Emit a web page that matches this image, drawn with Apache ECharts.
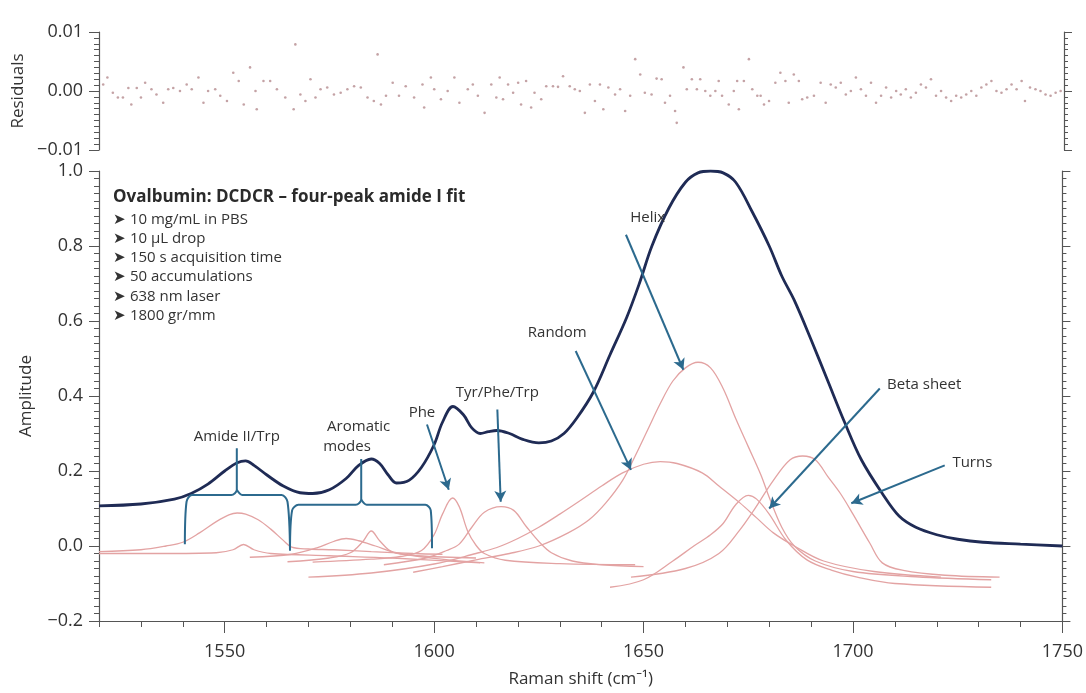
<!DOCTYPE html>
<html>
<head>
<meta charset="utf-8">
<script src="https://cdn.jsdelivr.net/npm/echarts@6/dist/echarts.min.js"></script>
<style>
html,body{margin:0;padding:0;background:#fff;}
#chart{width:1086px;height:693px;}
</style>
</head>
<body>
<div id="chart"></div>
<script>
// ---------------- DATA ----------------
const xTickLabels = [1550, 1600, 1650, 1700, 1750];
const xMinorTicks = [1520,1530,1540,1550,1560,1570,1580,1590,1600,1610,1620,1630,1640,1650,1660,1670,1680,1690,1700,1710,1720,1730,1740,1750];

// Measured spectrum (dark curve)
const specX = [1520,1530,1538,1542,1546,1550,1553,1555,1557,1560,1564,1568,1571,1575,1579,1582,1585,1587,1589,1591,1594,1597,1600,1602,1604.5,1607,1609,1611,1613,1615,1618,1621,1625,1628,1631,1634,1638,1642,1646,1649,1652,1656,1660,1663,1666,1669,1672,1676,1680,1683,1686,1690,1694,1698,1702,1707,1711,1715,1720,1725,1731,1740,1750];
const specY = [0.107,0.112,0.125,0.14,0.165,0.2,0.222,0.227,0.215,0.19,0.16,0.142,0.14,0.15,0.18,0.215,0.232,0.22,0.19,0.168,0.175,0.21,0.27,0.33,0.372,0.35,0.315,0.3,0.305,0.308,0.3,0.285,0.275,0.28,0.3,0.34,0.41,0.51,0.61,0.7,0.8,0.9,0.97,0.995,1.0,0.995,0.97,0.89,0.8,0.72,0.655,0.55,0.44,0.33,0.23,0.14,0.08,0.05,0.03,0.018,0.01,0.005,0.0];

// Fitted components (pink curves)
const compAmideII = [[1520,-0.015],[1530,-0.01],[1536,0.0],[1540,0.01],[1544,0.035],[1548,0.065],[1551,0.083],[1553,0.088],[1555,0.085],[1558,0.07],[1561,0.045],[1564,0.015],[1566,-0.003],[1570,-0.008],[1576,-0.01],[1585,-0.015],[1595,-0.02],[1602,-0.022]];
const compTrp = [[1520,-0.02],[1535,-0.02],[1548,-0.018],[1552,-0.01],[1554.5,0.004],[1557,-0.01],[1561,-0.02],[1575,-0.026],[1590,-0.032],[1611,-0.045]];
const compArom1 = [[1556,-0.03],[1566,-0.022],[1572,-0.005],[1576,0.012],[1579,0.02],[1582,0.014],[1586,0.0],[1591,-0.018],[1600,-0.033],[1612,-0.045]];
const compArom2 = [[1565,-0.042],[1575,-0.032],[1580,-0.018],[1583,0.012],[1585,0.04],[1587,0.014],[1590,-0.016],[1596,-0.026],[1610,-0.032]];
const compPhe = [[1571,-0.043],[1585,-0.035],[1592,-0.028],[1597,-0.012],[1600,0.03],[1602,0.085],[1604.4,0.128],[1606,0.105],[1608,0.04],[1610,0.002],[1612,-0.02],[1617,-0.038],[1630,-0.047],[1648,-0.05]];
const compTyr = [[1588,-0.05],[1598,-0.032],[1603,-0.012],[1606,0.005],[1609,0.05],[1612,0.09],[1616,0.105],[1619,0.095],[1622,0.052],[1625,0.012],[1628,-0.018],[1633,-0.04],[1640,-0.05],[1650,-0.055]];
const compRandom = [[1570,-0.083],[1585,-0.072],[1600,-0.048],[1610,-0.02],[1615,-0.004],[1620,0.02],[1625,0.05],[1630,0.085],[1635,0.122],[1640,0.16],[1645,0.195],[1650,0.218],[1654,0.225],[1658,0.22],[1664,0.195],[1668,0.16],[1673,0.115],[1677,0.075],[1681,0.035],[1686,0.0],[1693,-0.04],[1705,-0.068],[1721,-0.083]];
const compHelix = [[1595,-0.07],[1602,-0.055],[1610,-0.037],[1618,-0.02],[1625,0.0],[1632,0.035],[1637,0.07],[1641,0.115],[1645,0.175],[1648,0.24],[1651,0.31],[1654,0.38],[1657,0.44],[1660,0.475],[1663,0.49],[1666,0.475],[1669,0.42],[1672,0.34],[1675,0.265],[1678,0.19],[1680,0.13],[1683,0.05],[1686,0.0],[1691,-0.04],[1700,-0.068],[1715,-0.082],[1733,-0.09]];
const compBeta = [[1642,-0.11],[1650,-0.09],[1657,-0.04],[1662,0.0],[1666,0.03],[1669,0.06],[1672,0.11],[1675,0.135],[1677,0.125],[1680,0.085],[1684,0.016],[1689,-0.037],[1695,-0.065],[1701,-0.083],[1710,-0.1],[1733,-0.11]];
const compTurns = [[1647,-0.083],[1660,-0.06],[1668,-0.02],[1673,0.043],[1676,0.09],[1681,0.175],[1685,0.23],[1688,0.24],[1691,0.23],[1694,0.185],[1697,0.14],[1700,0.085],[1704,0.008],[1707,-0.045],[1712,-0.065],[1722,-0.078],[1735,-0.083]];

// Residuals
const resX = [1521,1522,1523.3,1524.5,1525.7,1527,1527.7,1529,1530,1531,1532.5,1533.7,1535.3,1536.5,1537.7,1539.3,1540.9,1542.1,1543.7,1544.9,1546,1547.7,1548.9,1550.5,1552,1553.3,1554.5,1556,1557.3,1557.6,1559.2,1560.8,1562.4,1564.4,1566.4,1566.8,1568,1569.2,1570.4,1571.6,1572.8,1574.4,1576,1577.6,1579.2,1580.8,1582.4,1584,1585.5,1586.4,1587.2,1588.4,1590,1591.5,1593.1,1595.1,1597.1,1597.5,1599.1,1599.9,1601.5,1603.1,1604.7,1605.9,1607.9,1609.1,1610.3,1611.9,1613.5,1614.7,1615.5,1616.3,1617.5,1618.7,1619.9,1620.6,1621.8,1623,1623.8,1625.4,1626.6,1628.2,1629.4,1630.6,1632.2,1633.4,1634.6,1635.8,1637,1638.2,1639.4,1640.2,1641.4,1643,1644.2,1645.4,1646.6,1647.8,1649,1650.1,1651.7,1652.9,1654.1,1654.9,1656.1,1657.3,1657.7,1659.3,1660.1,1661.3,1662.5,1663.3,1664.5,1665.7,1666.9,1667.7,1668.5,1670.1,1671.3,1672.1,1672.5,1673.7,1674.9,1675.7,1676.9,1677.7,1678.5,1679.7,1681.2,1682.4,1683.6,1684.4,1685.6,1686.8,1687.6,1688.8,1690.4,1692,1693.2,1694.4,1695.6,1696.8,1698,1699.2,1700.4,1701.6,1702.8,1704,1705.2,1706.4,1707.6,1708.8,1710,1711.1,1712.3,1713.5,1714.7,1715.9,1717.1,1718.3,1719.5,1720.7,1721.9,1723.1,1724.3,1725.5,1726.7,1727.9,1729.1,1730.3,1731.5,1732.7,1733.9,1735.1,1736.3,1737.5,1738.7,1739.9,1740.7,1741.9,1743.2,1744.4,1745.6,1746.8,1748,1749.2];
const resY = [0.0011,0.0023,-0.0003,-0.0011,-0.0011,0.0005,-0.0023,0.0005,-0.0011,0.0014,0.0003,-0.0006,-0.002,0.0003,0.0005,0,0.0011,0.0003,0.0023,-0.002,0,0.0003,-0.0008,-0.0017,0.0031,0.0017,-0.0023,0.004,0,-0.0031,0.0017,0.0017,0.0003,-0.0011,-0.0031,0.0079,-0.0006,-0.0017,0.002,-0.0011,0.0003,0.0006,-0.0006,-0.0003,0.0003,0.0008,0.0006,-0.0011,-0.0017,0.0062,-0.0023,-0.0008,0.0014,-0.0008,0.0008,-0.0011,0.0011,-0.0028,0.0023,0.0003,-0.0014,0,0.0023,-0.002,0.0003,0.0011,-0.0008,-0.0037,0.0011,-0.0011,0.0023,-0.0014,0.0011,-0.0003,0.0014,-0.0023,0.0017,-0.0028,-0.0003,-0.0014,0.0008,0.0008,0.0007,0.0025,0.0008,0.0003,0,-0.0037,0.0011,-0.0017,0.0011,-0.0031,0.0006,-0.0006,0.0003,-0.0034,-0.0008,0.0054,0.0028,-0.0003,-0.0006,0.0021,0.002,-0.002,-0.0008,-0.0034,-0.0054,0.004,0.0003,0.002,0.0003,0.002,0,-0.0008,0,0.0017,-0.0008,-0.0023,0,0.0017,-0.0031,0.0017,0.0054,0.0003,-0.0008,-0.0008,-0.0023,-0.0017,0.0014,0.0031,0.0017,-0.002,0.0028,0.0017,-0.0014,-0.0011,-0.0008,0.0014,-0.002,0.0011,0.0006,0.0014,-0.0006,0,0.0023,0.0003,-0.0008,0.0014,-0.002,-0.0008,0.0006,-0.0011,0,-0.0006,0.0003,-0.0011,-0.0003,0.0011,0.0006,0.002,-0.0008,0,-0.0011,-0.0017,-0.0008,-0.0011,-0.0006,0,-0.0008,0.0006,0.0011,0.0017,0,-0.0003,0.0003,0.0011,0.0003,0.0017,-0.0017,0.0006,0.0003,0,-0.0006,-0.0008,-0.0003,0];

// Annotations (data coordinates)
const annoLabels = [
  ['Helix', 1651, 0.875],
  ['Random', 1629.4, 0.569],
  ['Tyr/Phe/Trp', 1615.1, 0.408],
  ['Phe', 1597.1, 0.355],
  ['Amide II/Trp', 1552.9, 0.292],
  ['Aromatic', 1582, 0.319],
  ['modes', 1579.2, 0.265],
  ['Beta sheet', 1717, 0.43],
  ['Turns', 1728.5, 0.221]
];
const annoArrows = [
  [1645.8, 0.83, 1659.5, 0.47],
  [1633.8, 0.52, 1647, 0.203],
  [1615.1, 0.364, 1615.9, 0.118],
  [1598.3, 0.324, 1603.5, 0.15],
  [1706.4, 0.42, 1680, 0.1],
  [1721.9, 0.215, 1699.6, 0.114]
];
const bracketAmideL = [[1540.5,0.005],[1540.9,0.118],[1542.2,0.136],[1551.6,0.136],[1552.9,0.15],[1552.9,0.261]];
const bracketAmideR = [[1552.9,0.15],[1554.2,0.136],[1563.6,0.136],[1565.0,0.118],[1565.6,-0.012]];
const bracketAromL = [[1565.6,-0.012],[1566.1,0.095],[1567.6,0.11],[1581.3,0.11],[1582.6,0.124],[1582.6,0.232]];
const bracketAromR = [[1582.6,0.124],[1583.9,0.11],[1597.9,0.11],[1599.2,0.095],[1599.5,-0.006]];

const infoTitle = 'Ovalbumin: DCDCR – four-peak amide I fit';
const infoLines = ['➤ 10 mg/mL in PBS','➤ 10 µL drop','➤ 150 s acquisition time','➤ 50 accumulations','➤ 638 nm laser','➤ 1800 gr/mm'];

// ---------------- CHART ----------------
const FONT = '"Open Sans", "Noto Sans", sans-serif';
const axisCol = '#555';
const textCol = '#333333';
const pink = '#e3a3a3';
const arrowCol = '#2c6a8e';
const chart = echarts.init(document.getElementById('chart'), null, {renderer: 'canvas'});

function minus(s){ return s.replace('-', '\u2212'); }

const compList = [compAmideII, compTrp, compArom1, compArom2, compPhe, compTyr, compRandom, compHelix, compBeta, compTurns];

const series = [];
compList.forEach(function(c){
  series.push({type:'line', xAxisIndex:1, yAxisIndex:2, data:c, smooth:0.35, showSymbol:false, silent:true,
    lineStyle:{color:pink, width:1.3}, z:2});
});
series.push({type:'line', xAxisIndex:1, yAxisIndex:2, data: specX.map((x,i)=>[x, specY[i]]), smooth:0.35, showSymbol:false, silent:true,
  lineStyle:{color:'#1f2b55', width:2.8}, z:3});
[bracketAmideL, bracketAmideR, bracketAromL, bracketAromR].forEach(function(b){
  series.push({type:'line', xAxisIndex:1, yAxisIndex:2, data:b, smooth:0.3, showSymbol:false, silent:true,
    lineStyle:{color:arrowCol, width:2}, z:4});
});
series.push({type:'line', xAxisIndex:1, yAxisIndex:2, data:[], silent:true,
  markLine:{silent:true, symbol:['none','arrow'], symbolSize:[9,11], animation:false,
    lineStyle:{color:arrowCol, width:2, type:'solid'}, label:{show:false},
    data: annoArrows.map(a=>[{coord:[a[0],a[1]]},{coord:[a[2],a[3]]}])}, z:5});
series.push({type:'scatter', xAxisIndex:1, yAxisIndex:2, symbolSize:1, itemStyle:{color:'rgba(255,255,255,0)'}, silent:true,
  data: annoLabels.map(l=>({name:l[0], value:[l[1], l[2]]})),
  label:{show:true, position:'inside', formatter:'{b}', color:textCol, fontSize:15, fontFamily:FONT, opacity:1}, z:6});
series.push({type:'scatter', xAxisIndex:0, yAxisIndex:0, data: resX.map((x,i)=>[x, resY[i]]), symbol:'circle', symbolSize:2.6, silent:true,
  itemStyle:{color:'#b58b8f'}});

const graphics = [{type:'text', left:113, top:189, style:{text:infoTitle, font:'bold 17px ' + FONT, fill:'#2a2a2a'}}];
infoLines.forEach(function(t,i){
  graphics.push({type:'text', left:113, top:212 + i*19.2, style:{text:t, font:'15px ' + FONT, fill:'#333333'}});
});

const option = {
  animation:false,
  backgroundColor:'#fff',
  grid:[
    {left:99, right:22, top:32, height:118},
    {left:99, right:22, top:171, height:450}
  ],
  xAxis:[
    {gridIndex:0, type:'value', min:1520, max:1750, show:false},
    {gridIndex:1, type:'value', min:1520, max:1750, interval:10, position:'bottom',
      axisLine:{show:true, onZero:false, lineStyle:{color:axisCol, width:1.2}},
      axisTick:{show:true, customValues:xTickLabels, length:12, lineStyle:{color:axisCol}},
      axisLabel:{show:true, customValues:xTickLabels, margin:22, fontSize:18, color:textCol, fontFamily:FONT,
        formatter:function(v){ return (v % 50 === 0) ? String(v) : ''; }},
      splitLine:{show:false},
      name:'Raman shift (cm⁻¹)', nameLocation:'middle', nameGap:50,
      nameTextStyle:{fontSize:17, color:textCol, fontFamily:FONT}},
    {gridIndex:1, type:'value', min:1520, max:1750, interval:10, position:'bottom',
      axisLine:{show:false, onZero:false},
      axisTick:{show:true, customValues:xMinorTicks, length:6, lineStyle:{color:axisCol}},
      axisLabel:{show:false}, splitLine:{show:false}}
  ],
  yAxis:[
    {gridIndex:0, type:'value', min:-0.01, max:0.01, interval:0.01, position:'left',
      axisLine:{show:true, onZero:false, lineStyle:{color:axisCol, width:1.2}},
      axisTick:{show:true, length:10, lineStyle:{color:axisCol}},
      minorTick:{show:true, splitNumber:10, length:5, lineStyle:{color:axisCol}},
      axisLabel:{margin:16, fontSize:18, color:textCol, fontFamily:FONT, formatter:function(v){return minus(v.toFixed(2));}},
      splitLine:{show:false}, minorSplitLine:{show:false},
      name:'Residuals', nameLocation:'middle', nameGap:64, nameRotate:90,
      nameTextStyle:{fontSize:17, color:textCol, fontFamily:FONT}},
    {gridIndex:0, type:'value', min:-0.01, max:0.01, interval:0.01, position:'right',
      axisLine:{show:true, onZero:false, lineStyle:{color:axisCol, width:1.2}},
      axisTick:{show:true, length:8, lineStyle:{color:axisCol}},
      minorTick:{show:true, splitNumber:10, length:4, lineStyle:{color:axisCol}},
      axisLabel:{show:false}, splitLine:{show:false}},
    {gridIndex:1, type:'value', min:-0.2, max:1.0, interval:0.2, position:'left',
      axisLine:{show:true, onZero:false, lineStyle:{color:axisCol, width:1.2}},
      axisTick:{show:true, length:10, lineStyle:{color:axisCol}},
      minorTick:{show:true, splitNumber:10, length:5, lineStyle:{color:axisCol}},
      axisLabel:{margin:16, fontSize:18, color:textCol, fontFamily:FONT, formatter:function(v){return minus(v.toFixed(1));}},
      splitLine:{show:false}, minorSplitLine:{show:false},
      name:'Amplitude', nameLocation:'middle', nameGap:64, nameRotate:90,
      nameTextStyle:{fontSize:17, color:textCol, fontFamily:FONT}},
    {gridIndex:1, type:'value', min:-0.2, max:1.0, interval:0.2, position:'right',
      axisLine:{show:true, onZero:false, lineStyle:{color:axisCol, width:1.2}},
      axisTick:{show:true, length:8, lineStyle:{color:axisCol}},
      minorTick:{show:true, splitNumber:10, length:4, lineStyle:{color:axisCol}},
      axisLabel:{show:false}, splitLine:{show:false}}
  ],
  graphic: graphics,
  series: series
};
chart.setOption(option);
</script>
</body>
</html>
